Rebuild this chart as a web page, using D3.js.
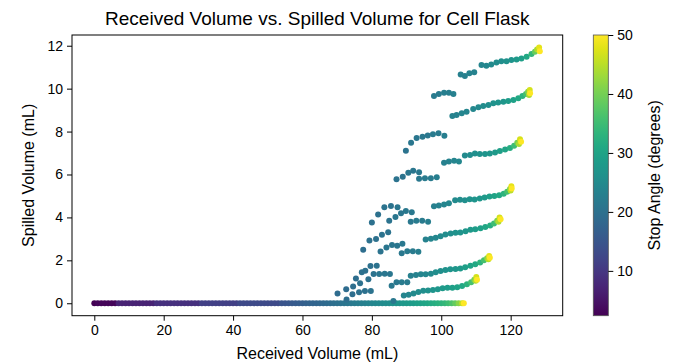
<!DOCTYPE html>
<html>
<head>
<meta charset="utf-8">
<script src="https://cdn.jsdelivr.net/npm/d3@7"></script>
<style>
  html, body { margin: 0; padding: 0; background: #fff; }
  svg text { font-family: "Liberation Sans", Arial, sans-serif; fill: #000; }
</style>
</head>
<body>
<div id="chart"></div>
<script>
// ---- data: [received mL, spilled mL, stop angle deg] ----
const xTicks = [0, 20, 40, 60, 80, 100, 120];
const yTicks = [0, 2, 4, 6, 8, 10, 12];
const angleTicks = [10, 20, 30, 40, 50];

// baseline (nothing spilled yet)
const baseX = [0, 1, 2, 3, 4, 5, 6, 7, 8, 9, 10, 11, 12, 13, 14, 15, 16, 17, 18, 19,
  20, 21, 22, 23, 24, 25, 26, 27, 28, 29, 30, 31, 32, 33, 34, 35, 36, 37, 38, 39,
  40, 41, 42, 43, 44, 45, 46, 47, 48, 49, 50, 51, 52, 53, 54, 55, 56, 57, 58, 59,
  60, 61, 62, 63, 64, 65, 66, 67, 68, 69, 70, 71, 72, 73, 74, 75, 76, 77, 78, 79,
  80, 81, 82, 83, 84, 85, 86, 87, 88, 89, 90, 91, 92, 93, 94, 95, 96, 97, 98, 99,
  100, 101, 102, 103, 104, 105, 106, 106.5];
const baseAngle = [2.5, 3, 3, 3, 3, 3, 3, 7, 7, 7, 7, 7, 7, 7, 7, 7, 7, 7, 9, 9,
  9, 9, 9, 9, 9, 9, 9, 9, 9, 9, 9, 11.5, 11.5, 11.5, 11.5, 11.5, 11.5, 11.5, 11.5, 11.5,
  11.5, 11.5, 13, 13, 13, 13, 13, 13, 13, 13, 13, 13, 13, 13, 14.5, 14.8, 15.2, 15.5, 15.8, 16.2,
  16.5, 17, 17.3, 17.6, 17.8, 18.1, 18.4, 18.8, 19.2, 19.6, 20, 20.3, 20.7, 21, 21.5, 22, 22.4, 22.7, 23, 23.6,
  24, 24.4, 24.8, 25.1, 25.5, 25.8, 26.4, 27, 27.3, 27.7, 28, 28.3, 28.6, 29, 29.6, 30.2, 30.6, 31.3, 32, 32.6,
  33.2, 34, 35, 36.5, 38.5, 41.5, 45.5, 50];

const clusterLow = [[70.1, 0.45, 19], [72.6, 0.65, 19], [72.7, 0.17, 19.5], [74.4, 0.42, 19.5], [74.6, 0.78, 19.5],
  [75.4, 1.15, 19.5], [76.3, 0.51, 20], [76.6, 0.93, 20], [77.1, 1.44, 20], [78.0, 0.57, 20], [78.1, 1.52, 20],
  [79.0, 1.12, 20], [79.6, 1.74, 20], [79.7, 0.57, 20.5], [80.5, 1.36, 20.5], [81.4, 1.75, 20.5], [82.1, 1.36, 21],
  [83.7, 1.38, 21], [85.2, 1.36, 21], [85.7, 0.81, 21.5], [86.2, 0.1, 21.5], [87.1, 0.98, 21.5], [88.6, 0.98, 22], [90.2, 0.98, 22]];
const clusterMid = [[77.5, 2.49, 19.5], [79.3, 2.92, 20], [81.2, 2.99, 20], [82.9, 3.19, 20.5], [84.7, 3.31, 20.5],
  [82.5, 2.41, 20.5], [84.2, 2.6, 21], [85.8, 2.72, 21], [87.3, 2.68, 21], [88.8, 2.77, 21.5],
  [88.6, 2.33, 21.5], [90.2, 2.42, 22], [91.8, 2.42, 22], [93.4, 2.4, 22.5]];
const clusterHigh = [[80.0, 3.76, 20], [81.8, 4.14, 20], [83.6, 4.47, 20.5], [85.5, 4.53, 20.5], [87.4, 4.47, 21],
  [85.0, 3.85, 20.5], [86.8, 4.02, 21], [88.4, 4.19, 21], [89.8, 4.3, 21.5], [91.5, 4.24, 21.5],
  [91.2, 3.8, 21.5], [92.8, 3.85, 22], [94.5, 3.85, 22], [96.2, 3.8, 22.5]];
const clusterUpper = [[87.1, 5.78, 20.5], [88.9, 5.9, 20.5], [90.5, 6.08, 21], [91.9, 6.17, 21], [93.6, 6.11, 21.5],
  [93.6, 5.8, 21.5], [95.3, 5.83, 22], [97.0, 5.83, 22], [98.7, 5.87, 22.5]];
const clusterTop = [[89.8, 7.11, 20.5], [91.3, 7.48, 21], [92.9, 7.7, 21], [94.6, 7.76, 21.5], [96.1, 7.82, 21.5],
  [97.6, 7.87, 22], [99.2, 7.92, 22], [100.9, 7.8, 22.5]];

const curveB = [[89.2, 0.36, 24], [90.6, 0.4, 24.5], [92.0, 0.45, 25], [93.4, 0.52, 25.5], [94.8, 0.58, 26], [96.2, 0.6, 26.5],
  [97.6, 0.62, 27], [99.0, 0.65, 27.5], [100.4, 0.7, 28], [101.8, 0.72, 28.5], [103.2, 0.72, 29], [104.6, 0.75, 30],
  [106.0, 0.8, 31], [107.4, 0.88, 33], [108.6, 0.98, 36], [109.5, 1.1, 40], [109.9, 1.05, 44], [110.1, 1.22, 47], [110.3, 1.1, 50]];
const curveC = [[91.2, 1.28, 23], [92.7, 1.32, 23.5], [94.1, 1.35, 24], [95.5, 1.35, 24.5], [97.0, 1.38, 25], [98.4, 1.45, 25.5],
  [99.8, 1.5, 26], [101.2, 1.55, 26.5], [102.6, 1.58, 27], [104.1, 1.6, 27.5], [105.5, 1.62, 28], [106.9, 1.68, 29],
  [108.4, 1.75, 30], [109.8, 1.82, 31], [111.2, 1.9, 33], [112.3, 2.0, 36], [113.2, 2.1, 41], [113.6, 2.05, 45], [113.8, 2.2, 48], [114.0, 2.12, 50]];
const curveD = [[95.5, 2.97, 23.5], [97.0, 3.0, 24], [98.4, 3.05, 24.5], [99.8, 3.12, 25], [101.2, 3.2, 25.5], [102.7, 3.25, 26],
  [104.1, 3.28, 26.5], [105.5, 3.3, 27], [107.0, 3.35, 27.5], [108.4, 3.42, 28], [109.8, 3.45, 28.5], [111.3, 3.5, 29.5],
  [112.7, 3.55, 30.5], [114.1, 3.62, 32], [115.2, 3.72, 35], [116.1, 3.85, 40], [116.5, 3.8, 44], [116.8, 4.0, 47], [117.1, 3.92, 50]];
const curveE = [[97.9, 4.52, 23], [99.3, 4.55, 23.5], [100.8, 4.6, 24], [102.2, 4.66, 24.5], [104.0, 4.8, 25], [105.4, 4.82, 25.5],
  [106.8, 4.8, 26], [108.2, 4.85, 26.5], [109.6, 4.83, 27], [111.1, 4.88, 27.5], [112.5, 4.93, 28], [113.9, 4.97, 29],
  [115.3, 5.0, 30], [116.7, 5.03, 31], [118.0, 5.1, 33], [119.0, 5.2, 36], [119.8, 5.32, 41], [120.0, 5.25, 45], [120.2, 5.45, 48], [120.3, 5.35, 50]];
const curveF = [[100.8, 6.55, 23], [102.2, 6.6, 23.5], [103.7, 6.64, 24], [105.1, 6.61, 24.5], [106.8, 6.88, 25], [108.3, 6.91, 25.5],
  [109.7, 6.98, 26], [111.1, 6.96, 26.5], [112.6, 6.96, 27], [114.0, 6.98, 27.5], [115.5, 7.03, 28], [116.9, 7.09, 29],
  [118.4, 7.17, 30], [119.8, 7.24, 32], [121.0, 7.34, 35], [121.9, 7.48, 40], [122.4, 7.42, 44], [122.7, 7.64, 47], [123.0, 7.52, 50]];
const curveG = [[97.9, 9.66, 22], [99.3, 9.75, 22], [100.8, 9.81, 22.5], [102.2, 9.81, 22.5], [103.5, 9.75, 23],
  [103.2, 8.72, 23.5], [104.4, 8.77, 23.5], [105.9, 8.85, 24], [107.3, 8.92, 24],
  [109.2, 9.05, 24.5], [110.7, 9.13, 25], [112.1, 9.19, 25.5], [113.6, 9.24, 26], [115.0, 9.32, 26.5], [116.4, 9.35, 27],
  [117.9, 9.39, 27.5], [119.3, 9.42, 28.5], [120.8, 9.47, 29.5], [122.2, 9.55, 31], [123.4, 9.66, 33], [124.4, 9.75, 36],
  [125.0, 9.86, 41], [125.3, 9.7, 44], [125.5, 9.94, 47], [125.6, 9.78, 50]];
const curveH = [[105.6, 10.66, 23], [106.8, 10.59, 23], [108.1, 10.72, 23.5], [109.5, 10.76, 23.5],
  [111.6, 11.1, 24], [113.0, 11.07, 24.5], [114.4, 11.13, 25], [115.9, 11.22, 25.5], [117.3, 11.28, 26], [118.8, 11.28, 26.5],
  [120.2, 11.33, 27], [121.7, 11.36, 28], [123.1, 11.41, 29], [124.6, 11.49, 31], [126.0, 11.61, 34], [127.0, 11.72, 39],
  [127.6, 11.83, 44], [128.2, 11.92, 48], [128.4, 11.74, 50]];

const series = [clusterLow, clusterMid, clusterHigh, clusterUpper, clusterTop,
  curveB, curveC, curveD, curveE, curveF, curveG, curveH];

// ---- layout ----
const W = 673, H = 364;
const plot = { left: 72, right: 562.7, top: 35, bottom: 315.7 };
const cbar = { left: 593.3, right: 608.3 };

const svg = d3.select('#chart').append('svg')
  .attr('width', W).attr('height', H);

const x = d3.scaleLinear().domain([-6.43, 135.0]).range([plot.left, plot.right]);
const y = d3.scaleLinear().domain([-0.58, 12.5]).range([plot.bottom, plot.top]);
const color = d3.scaleSequential(d3.interpolateViridis).domain([2.4, 50]);

// points
const r = 3.0;
const g = svg.append('g');
g.selectAll('circle.base')
  .data(baseX.map((v, i) => [v, 0, baseAngle[i]]))
  .enter().append('circle')
  .attr('cx', d => x(d[0])).attr('cy', d => y(d[1])).attr('r', r)
  .attr('fill', d => color(d[2]));

series.forEach(s => {
  g.append('g').selectAll('circle')
    .data(s)
    .enter().append('circle')
    .attr('cx', d => x(d[0])).attr('cy', d => y(d[1])).attr('r', r)
    .attr('fill', d => color(d[2]));
});

// axes
const xAxis = svg.append('g')
  .attr('transform', `translate(0,${plot.bottom})`)
  .call(d3.axisBottom(x).tickValues(xTicks).tickSize(5).tickPadding(4));
const yAxis = svg.append('g')
  .attr('transform', `translate(${plot.left},0)`)
  .call(d3.axisLeft(y).tickValues(yTicks).tickSize(5).tickPadding(4));
[xAxis, yAxis].forEach(a => {
  a.select('.domain').remove();
  a.selectAll('line').attr('stroke', '#000').attr('stroke-width', 1);
  a.selectAll('text').style('font-size', '14px').style('font-family', '"Liberation Sans", Arial, sans-serif').attr('fill', '#000');
});

// frame
svg.append('rect')
  .attr('x', plot.left).attr('y', plot.top)
  .attr('width', plot.right - plot.left).attr('height', plot.bottom - plot.top)
  .attr('fill', 'none').attr('stroke', '#000').attr('stroke-width', 1);

// titles
svg.append('text')
  .attr('x', (plot.left + plot.right) / 2).attr('y', 25)
  .attr('text-anchor', 'middle').style('font-size', '19px')
  .text('Received Volume vs. Spilled Volume for Cell Flask');
svg.append('text')
  .attr('x', (plot.left + plot.right) / 2).attr('y', 359)
  .attr('text-anchor', 'middle').style('font-size', '16px')
  .text('Received Volume (mL)');
svg.append('text')
  .attr('transform', `translate(34,${(plot.top + plot.bottom) / 2}) rotate(-90)`)
  .attr('text-anchor', 'middle').style('font-size', '16px')
  .text('Spilled Volume (mL)');

// colorbar
const defs = svg.append('defs');
const grad = defs.append('linearGradient').attr('id', 'vir')
  .attr('x1', 0).attr('y1', 1).attr('x2', 0).attr('y2', 0);
d3.range(0, 1.0001, 0.05).forEach(t => {
  grad.append('stop').attr('offset', t).attr('stop-color', d3.interpolateViridis(t));
});
const cy = d3.scaleLinear().domain([2.4, 50]).range([plot.bottom, plot.top]);
svg.append('rect')
  .attr('x', cbar.left).attr('y', plot.top)
  .attr('width', cbar.right - cbar.left).attr('height', plot.bottom - plot.top)
  .attr('fill', 'url(#vir)').attr('stroke', '#555').attr('stroke-width', 0.8);
const cAxis = svg.append('g')
  .attr('transform', `translate(${cbar.right},0)`)
  .call(d3.axisRight(cy).tickValues(angleTicks).tickSize(5).tickPadding(4));
cAxis.select('.domain').remove();
cAxis.selectAll('line').attr('stroke', '#000');
cAxis.selectAll('text').style('font-size', '14px').style('font-family', '"Liberation Sans", Arial, sans-serif').attr('fill', '#000');
svg.append('text')
  .attr('transform', `translate(660,${(plot.top + plot.bottom) / 2}) rotate(-90)`)
  .attr('text-anchor', 'middle').style('font-size', '16px')
  .text('Stop Angle (degrees)');
</script>
</body>
</html>
